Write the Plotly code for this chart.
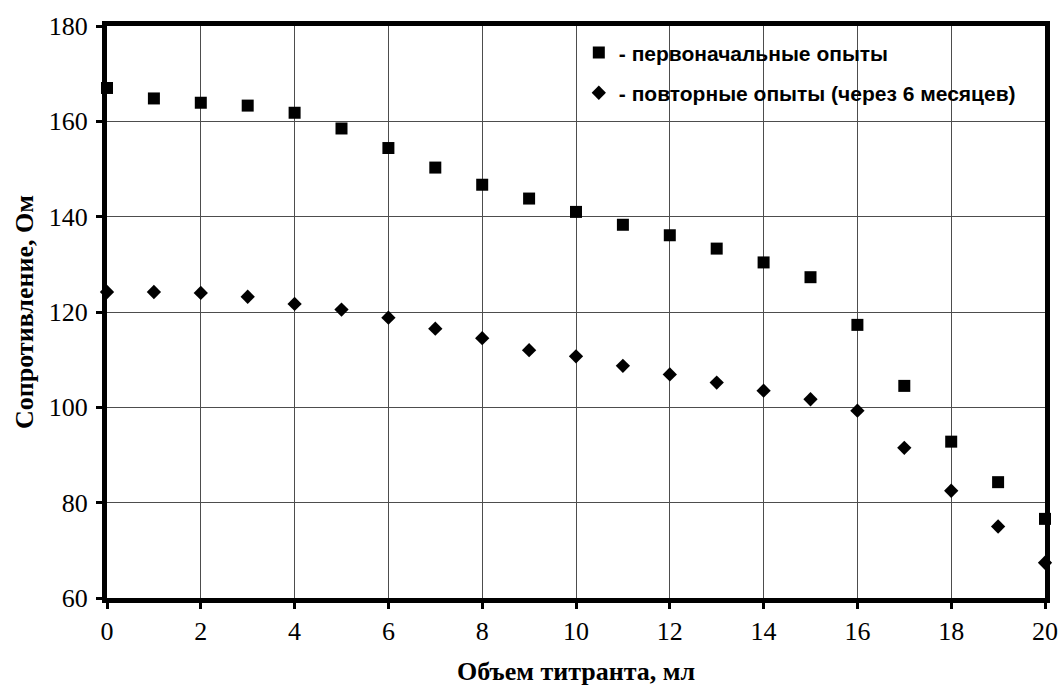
import plotly.graph_objects as go

# Titrant volume, ml
volume = [0, 1, 2, 3, 4, 5, 6, 7, 8, 9, 10, 11, 12, 13, 14, 15, 16, 17, 18, 19, 20]

# Resistance, Ohm — initial experiments
initial = [167.0, 164.8, 163.9, 163.3, 161.8, 158.5, 154.4, 150.3, 146.7, 143.8, 141.0,
           138.3, 136.1, 133.3, 130.4, 127.3, 117.3, 104.5, 92.8, 84.3, 76.6]

# Resistance, Ohm — repeated experiments (after 6 months)
repeated = [124.2, 124.2, 124.0, 123.2, 121.7, 120.5, 118.8, 116.5, 114.5, 112.0, 110.7,
            108.7, 106.9, 105.2, 103.5, 101.7, 99.3, 91.5, 82.5, 75.0, 67.4]

x_ticks = [0, 2, 4, 6, 8, 10, 12, 14, 16, 18, 20]
y_ticks = [60, 80, 100, 120, 140, 160, 180]

name_initial = "- первоначальные опыты"
name_repeated = "- повторные опыты (через 6 месяцев)"
x_title = "Объем титранта, мл"
y_title = "Сопротивление, Ом"

fig = go.Figure()
fig.add_trace(go.Scatter(
    x=volume, y=initial, mode="markers", name=name_initial,
    marker=dict(symbol="square", size=12, color="black"),
    legendgroup="a", cliponaxis=False,
))
fig.add_trace(go.Scatter(
    x=volume, y=repeated, mode="markers", name=name_repeated,
    marker=dict(symbol="diamond", size=11, color="black"),
    legendgroup="b", cliponaxis=False,
))

axis_common = dict(
    showline=True, linewidth=5, linecolor="black", mirror=True,
    ticks="outside", ticklen=6, tickwidth=3, tickcolor="black",
    showgrid=True, gridcolor="#4d4d4d", gridwidth=1,
    zeroline=False, automargin=False,
    tickfont=dict(family="Liberation Serif", size=26, color="black"),
)

title_font = dict(family="Liberation Serif", size=26, color="black")

fig.update_layout(
    width=1060, height=696,
    margin=dict(l=107, r=15, t=26, b=98),
    paper_bgcolor="white", plot_bgcolor="white",
    xaxis=dict(range=[0, 20], tickvals=x_ticks, **axis_common),
    yaxis=dict(range=[60, 180], tickvals=y_ticks, ticklabelstandoff=3, **axis_common),
    legend=dict(
        x=0.503, y=0.989, xanchor="left", yanchor="top",
        bgcolor="rgba(0,0,0,0)", borderwidth=0,
        traceorder="grouped", tracegroupgap=10,
        font=dict(family="Liberation Sans", size=21, color="black", weight="bold"),
    ),
    shapes=[dict(
        type="rect", xref="paper", yref="paper",
        x0=0.505, x1=1.0, y0=0.837, y1=1.0,
        fillcolor="white", line=dict(width=0), layer="between",
    )],
    annotations=[
        dict(text="<b>" + x_title + "</b>", xref="paper", yref="paper",
             x=0.5, y=0, xanchor="center", yanchor="middle", yshift=-73,
             showarrow=False, font=title_font),
        dict(text="<b>" + y_title + "</b>", xref="paper", yref="paper",
             x=0, y=0.5, xanchor="center", yanchor="middle", xshift=-83,
             textangle=-90, showarrow=False, font=title_font),
    ],
)

fig.write_html("out.html")
